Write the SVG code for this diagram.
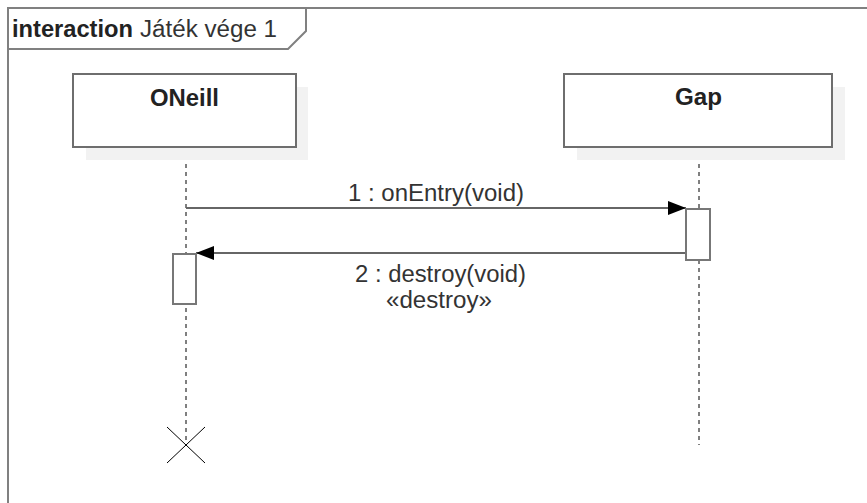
<svg xmlns="http://www.w3.org/2000/svg" width="867" height="503" viewBox="0 0 867 503">
<style>
.frame{fill:none;stroke:#808080;stroke-width:2}
.box{fill:#fff;stroke:#6e6e6e;stroke-width:2}
.shadow{fill:#f2f2f2;stroke:none}
.life{stroke:#000;stroke-width:1;stroke-dasharray:4,4;fill:none}
.msg{stroke:#666;stroke-width:2;fill:none}
.act{fill:#fff;stroke:#777;stroke-width:2}
.t{font-family:"Liberation Sans",Arial,sans-serif;font-size:23px;fill:#333}
.b{font-weight:bold;fill:#222}
</style>
<defs>
<marker id="ah" markerWidth="18" markerHeight="14" refX="18" refY="7" orient="auto" markerUnits="userSpaceOnUse">
<path d="M0,0 L18,7 L0,14 Z" fill="#000"/>
</marker>
</defs>
<rect width="867" height="503" fill="#fff"/>
<g id="frame">
<path class="frame" d="M8,520 L8,8 L880,8"/>
<path class="frame" d="M8,49 L288,49 L306,31 L306,8"/>
<text class="t b" x="12" y="37" textLength="121" lengthAdjust="spacingAndGlyphs">interaction</text>
<text class="t" x="140" y="37" textLength="137" lengthAdjust="spacingAndGlyphs">Játék vége 1</text>
</g>
<g id="connectors">
<line class="life" x1="186" y1="148" x2="186" y2="445"/>
<line class="life" x1="699" y1="148" x2="699" y2="445"/>
<line class="msg" x1="186" y1="208" x2="686" y2="208" marker-end="url(#ah)"/>
<line class="msg" x1="686" y1="253" x2="196" y2="253" marker-end="url(#ah)"/>
<text class="t" x="348" y="201" textLength="176" lengthAdjust="spacingAndGlyphs">1 : onEntry(void)</text>
<text class="t" x="355" y="282" textLength="171" lengthAdjust="spacingAndGlyphs">2 : destroy(void)</text>
<text class="t" x="386" y="308" textLength="106" lengthAdjust="spacingAndGlyphs">«destroy»</text>
<line x1="167" y1="427" x2="205" y2="463" stroke="#000" stroke-width="1"/>
<line x1="205" y1="427" x2="167" y2="463" stroke="#000" stroke-width="1"/>
</g>
<g id="oneill">
<rect class="shadow" x="86" y="87" width="222" height="73"/>
<rect class="box" x="73" y="74" width="223" height="73"/>
<text class="t b" x="150" y="106" textLength="69" lengthAdjust="spacingAndGlyphs">ONeill</text>
</g>
<g id="gap">
<rect class="shadow" x="577" y="87" width="268" height="73"/>
<rect class="box" x="564" y="74" width="268" height="73"/>
<text class="t b" x="675" y="105" textLength="47" lengthAdjust="spacingAndGlyphs">Gap</text>
</g>
<g id="act-gap">
<rect class="act" x="686" y="209" width="24" height="51"/>
</g>
<g id="act-oneill">
<rect class="act" x="173" y="254" width="23" height="50"/>
</g>
</svg>
